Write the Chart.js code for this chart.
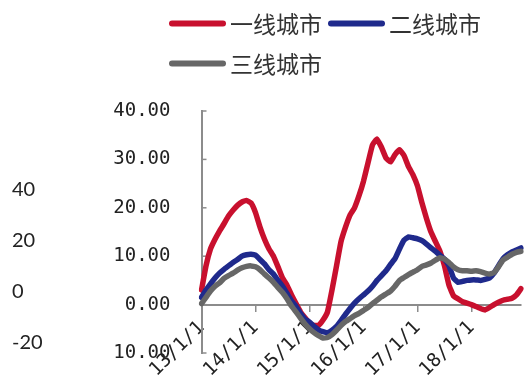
<!DOCTYPE html>
<html>
<head>
<meta charset="utf-8">
<script src="https://cdn.jsdelivr.net/npm/chart.js@4"></script>
<style>
  html, body { margin: 0; padding: 0; background: #fff; }
  #wrap { width: 524px; height: 377px; }
</style>
</head>
<body>
<div id="wrap"><canvas id="c" width="524" height="377"></canvas></div>
<script>
// Monthly categories, Jan 2013 – Dec 2018 (labelled YY/M/1)
const years = ['13', '14', '15', '16', '17', '18'];
const months = [1, 2, 3, 4, 5, 6, 7, 8, 9, 10, 11, 12];
const categories = [];
years.forEach(y => months.forEach(m => categories.push(y + '/' + m + '/1')));

// Year-on-year change, %
const tier1 = [
  3.0, 8.0, 11.5, 13.5, 15.2, 16.7, 18.3, 19.5, 20.5, 21.2, 21.5, 21.0,
  19.0, 16.0, 13.5, 11.5, 10.0, 7.8, 5.5, 4.0, 2.0, 0.2, -1.5, -2.7,
  -3.8, -4.3, -4.3, -3.2, -1.5, 3.0, 8.0, 13.0, 16.0, 18.5, 20.0, 22.5,
  25.5, 29.3, 33.0, 34.2, 32.5, 30.3, 29.5, 31.0, 32.0, 30.8, 28.5, 26.8,
  24.5, 21.0, 17.8, 15.0, 13.0, 11.0, 8.0, 4.0, 1.8, 1.2, 0.6, 0.3,
  0.0, -0.4, -0.8, -1.1, -0.6, 0.0, 0.5, 0.9, 1.1, 1.3, 2.0, 3.3
];
const tier2 = [
  1.5, 3.0, 4.3, 5.5, 6.5, 7.3, 8.0, 8.7, 9.3, 10.0, 10.3, 10.4,
  10.2, 9.3, 8.4, 7.2, 6.3, 5.0, 3.8, 2.3, 0.8, -0.4, -1.8, -3.0,
  -3.6, -4.5, -5.2, -5.6, -5.8, -5.3, -4.5, -3.3, -2.0, -0.8, 0.3, 1.2,
  2.0, 2.8, 3.8, 5.0, 6.0, 7.0, 8.3, 9.5, 11.5, 13.3, 14.0, 13.8,
  13.6, 13.2, 12.5, 11.7, 11.0, 10.2, 9.4, 8.0, 5.5, 4.6, 4.8, 5.0,
  5.1, 5.1, 5.0, 5.2, 5.5, 6.5, 8.0, 9.5, 10.3, 10.9, 11.3, 11.7
];
const tier3 = [
  0.2, 1.5, 2.8, 3.8, 4.5, 5.4, 6.0, 6.5, 7.1, 7.6, 7.9, 8.0,
  7.8, 7.2, 6.3, 5.5, 4.6, 3.5, 2.5, 1.2, -0.3, -1.5, -2.8, -4.0,
  -5.0, -5.8, -6.4, -6.9, -6.8, -6.2, -5.3, -4.3, -3.5, -2.9, -2.3, -1.8,
  -1.2, -0.6, 0.2, 0.9, 1.6, 2.2, 2.8, 3.8, 5.0, 5.6, 6.2, 6.7,
  7.2, 7.9, 8.2, 8.6, 9.2, 9.7, 9.4, 8.7, 7.8, 7.2, 7.0, 7.0,
  6.9, 7.0, 6.8, 6.5, 6.3, 6.6, 7.8, 9.2, 9.8, 10.4, 10.8, 11.0
];

const seriesNames = ['一线城市', '二线城市', '三线城市'];
const seriesColors = ['#C8102E', '#1F2A8C', '#676767'];

// Axis ticks
const yTicks = [-10, 0, 10, 20, 30, 40];
const y2Ticks = [-20, 0, 20, 40];

const AXIS_GREY = '#8c8c8c';
const TEXT = '#222';
const MONO = 'DejaVu Sans Mono';

// Keep rotated/edge labels from pushing the plot area inwards
const noScalePadding = s => {
  s.paddingTop = 0; s.paddingBottom = 0; s.paddingLeft = 0; s.paddingRight = 0;
};

// Short tick marks pointing into the plot from the left axis
const innerTicks = {
  id: 'innerTicks',
  beforeDatasetsDraw(chart) {
    const s = chart.scales.y, ctx = chart.ctx, left = chart.chartArea.left;
    ctx.save();
    ctx.strokeStyle = AXIS_GREY;
    ctx.lineWidth = 1.5;
    s.ticks.forEach(t => {
      const py = s.getPixelForValue(t.value);
      ctx.beginPath();
      ctx.moveTo(left, py);
      ctx.lineTo(left + 5, py);
      ctx.stroke();
    });
    ctx.restore();
  }
};

// Two-row legend with line swatches
const legendRows = [[0, 1], [2]];
const lineLegend = {
  id: 'lineLegend',
  afterDraw(chart) {
    const ctx = chart.ctx;
    const ds = chart.data.datasets;
    ctx.save();
    ctx.font = '23px "Noto Sans CJK SC"';
    ctx.textBaseline = 'middle';
    ctx.textAlign = 'left';
    legendRows.forEach((row, r) => {
      const y = 23.5 + r * 40;
      let x = 169;
      row.forEach(i => {
        ctx.strokeStyle = ds[i].borderColor;
        ctx.lineWidth = 6;
        ctx.lineCap = 'round';
        ctx.beginPath();
        ctx.moveTo(x + 3, y);
        ctx.lineTo(x + 54, y);
        ctx.stroke();
        ctx.fillStyle = '#333';
        ctx.fillText(ds[i].label, x + 61, y + 1);
        x += 61 + ctx.measureText(ds[i].label).width + 6;
      });
    });
    ctx.restore();
  }
};

const datasets = [tier1, tier2, tier3].map((vals, i) => ({
  label: seriesNames[i],
  data: vals,
  borderColor: seriesColors[i],
  backgroundColor: seriesColors[i],
  borderWidth: 5.5,
  borderCapStyle: 'round',
  borderJoinStyle: 'round',
  pointRadius: 0,
  tension: 0.1,
  fill: false,
  order: 3 - i
}));

new Chart(document.getElementById('c'), {
  type: 'line',
  data: { labels: categories, datasets },
  options: {
    responsive: false,
    devicePixelRatio: 1,
    animation: false,
    layout: { padding: { left: 12, top: 111, right: 3, bottom: 24 } },
    plugins: { legend: { display: false }, tooltip: { enabled: false } },
    scales: {
      x: {
        type: 'category',
        position: { y: 0 },
        offset: false,
        afterBuildTicks: s => { s.ticks = s.ticks.filter(t => t.value % 12 === 0); },
        afterFit: s => { s.height = 0; noScalePadding(s); },
        grid: { display: true, drawOnChartArea: false, drawTicks: true, tickLength: 6, color: AXIS_GREY, lineWidth: 1.5 },
        border: { display: true, color: AXIS_GREY, width: 2 },
        ticks: { autoSkip: false, minRotation: 45, maxRotation: 45, padding: 6, color: TEXT, font: { family: MONO, size: 19 } }
      },
      y: {
        type: 'linear',
        position: 'left',
        weight: 0,
        min: -10,
        max: 40,
        afterBuildTicks: s => { s.ticks = yTicks.map(v => ({ value: v })); },
        afterFit: s => { s.width = 88; noScalePadding(s); },
        grid: { display: false, drawTicks: false },
        border: { display: true, color: AXIS_GREY, width: 2 },
        ticks: { padding: 31, color: TEXT, font: { family: MONO, size: 19 }, callback: v => Number(v).toFixed(2) }
      },
      y2: {
        type: 'linear',
        position: 'left',
        weight: 10,
        min: -24,
        max: 70.5,
        afterBuildTicks: s => { s.ticks = y2Ticks.map(v => ({ value: v })); },
        afterFit: s => { s.width = 101.5; noScalePadding(s); },
        grid: { display: false, drawTicks: false },
        border: { display: false },
        ticks: { crossAlign: 'far', padding: 0, color: TEXT, font: { family: 'Lato', size: 20 } }
      }
    }
  },
  plugins: [innerTicks, lineLegend]
});
</script>
</body>
</html>
